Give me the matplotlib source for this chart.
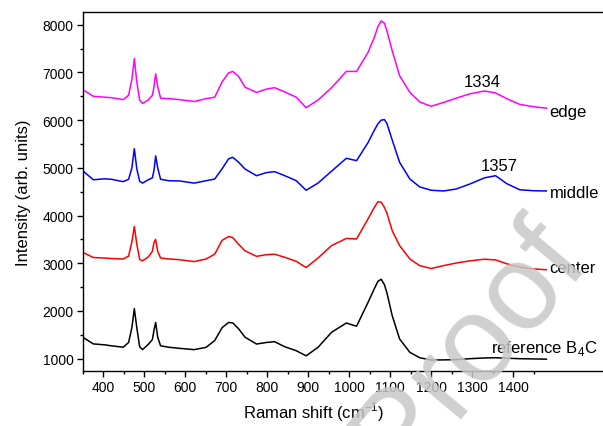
import matplotlib
matplotlib.use("Agg")
import matplotlib.pyplot as plt
from matplotlib.ticker import MultipleLocator, FixedLocator

plt.rcParams['font.family'] = ['Liberation Sans', 'DejaVu Sans']
plt.rcParams['mathtext.fontset'] = 'custom'
plt.rcParams['mathtext.rm'] = 'Liberation Sans'

# Raman shift (cm-1), shared by all four spectra
shift = [350, 376, 404, 420, 449, 462, 470, 476, 482, 489, 496, 510, 520, 524,
         528, 533, 540, 560, 586, 622, 651, 672, 690, 706, 716, 730, 746, 774,
         798, 818, 843, 871, 895, 924, 957, 993, 1018, 1046, 1062, 1070, 1078,
         1086, 1092, 1105, 1123, 1148, 1172, 1200, 1230, 1261, 1294, 1330, 1357,
         1384, 1416, 1450, 1481]

edge = [6640, 6500, 6480, 6470, 6430, 6520, 6850, 7290, 6800, 6420, 6350, 6420,
        6520, 6700, 6970, 6700, 6460, 6450, 6430, 6390, 6450, 6480, 6800, 6990,
        7020, 6920, 6690, 6580, 6650, 6680, 6590, 6480, 6260, 6420, 6680, 7020,
        7020, 7420, 7750, 7960, 8080, 8030, 7870, 7450, 6930, 6580, 6380, 6290,
        6370, 6460, 6550, 6610, 6570, 6450, 6330, 6280, 6250]

middle = [4940, 4750, 4770, 4760, 4710, 4760, 5000, 5400, 4980, 4720, 4680, 4750,
          4790, 4950, 5250, 5000, 4760, 4730, 4725, 4680, 4730, 4765, 4980, 5190,
          5220, 5120, 4975, 4835, 4900, 4920, 4835, 4730, 4530, 4680, 4930, 5200,
          5150, 5530, 5800, 5920, 6000, 6010, 5930, 5580, 5115, 4765, 4600, 4530,
          4515, 4556, 4660, 4790, 4835, 4670, 4540, 4520, 4515]

center = [3230, 3120, 3110, 3100, 3090, 3150, 3450, 3770, 3400, 3080, 3050, 3130,
          3250, 3440, 3500, 3250, 3110, 3090, 3075, 3035, 3090, 3190, 3480, 3560,
          3540, 3400, 3260, 3145, 3180, 3190, 3125, 3040, 2910, 3110, 3370, 3520,
          3510, 3930, 4180, 4290, 4280, 4170, 4050, 3680, 3370, 3090, 2950, 2890,
          2950, 3005, 3050, 3085, 3070, 2990, 2920, 2880, 2865]

reference = [1450, 1310, 1290, 1270, 1240, 1340, 1650, 2050, 1650, 1250, 1190, 1300,
             1400, 1600, 1760, 1450, 1270, 1240, 1217, 1190, 1238, 1380, 1650, 1760,
             1750, 1630, 1450, 1307, 1340, 1356, 1250, 1167, 1060, 1238, 1553, 1748,
             1680, 2181, 2480, 2620, 2665, 2550, 2380, 1900, 1412, 1133, 1020, 972,
             975, 980, 1000, 1015, 1020, 1010, 1000, 995, 990]

fig = plt.figure(figsize=(6.03, 4.27), dpi=100)
ax = fig.add_axes([0.1371, 0.1288, 0.8629, 0.8401])

ax.plot(shift, edge, color='#ff00ff', lw=1.1)
ax.plot(shift, middle, color='#0000ff', lw=1.1)
ax.plot(shift, center, color='#ff0000', lw=1.1)
ax.plot(shift, reference, color='black', lw=1.1)

ax.set_xlim(350, 1619)
ax.set_ylim(742, 8260)

ax.xaxis.set_major_locator(FixedLocator(range(400, 1401, 100)))
ax.xaxis.set_minor_locator(FixedLocator(range(350, 1451, 50)))
ax.yaxis.set_major_locator(MultipleLocator(1000))
ax.yaxis.set_minor_locator(MultipleLocator(500))
ax.tick_params(which='major', direction='out', length=4.5, width=1, labelsize=10, pad=2)
ax.tick_params(which='minor', direction='out', length=2.5, width=1)
ax.spines['right'].set_visible(False)
for s in ['left', 'bottom', 'top']:
    ax.spines[s].set_linewidth(1.0)

ax.set_xlabel('Raman shift (cm$^{-1}$)', fontsize=12)
ax.set_ylabel('Intensity (arb. units)', fontsize=12)
ax.xaxis.set_label_coords((314 - 82.7) / (603 - 82.7), -0.08)
ax.yaxis.set_label_coords(-0.100, 0.5)

ax.text(1489, 6093, 'edge', fontsize=12, va='baseline')
ax.text(1489, 4382, 'middle', fontsize=12, va='baseline')
ax.text(1488, 2823, 'center', fontsize=12, va='baseline')
ax.text(1347, 1146, 'reference B$_4$C', fontsize=12, va='baseline')
ax.text(1324, 6709, '1334', fontsize=12, va='baseline', ha='center')
ax.text(1367, 4961, '1357', fontsize=12, va='baseline', ha='center')

# "Proof" watermark over the figure
fig.text(470 / 603, 1 - 348 / 427, 'Proof', fontsize=88, color='#c8c8c8', alpha=0.85,
         rotation=50, ha='center', va='center', rotation_mode='anchor', zorder=10)

fig.savefig('out.png', dpi=100)
